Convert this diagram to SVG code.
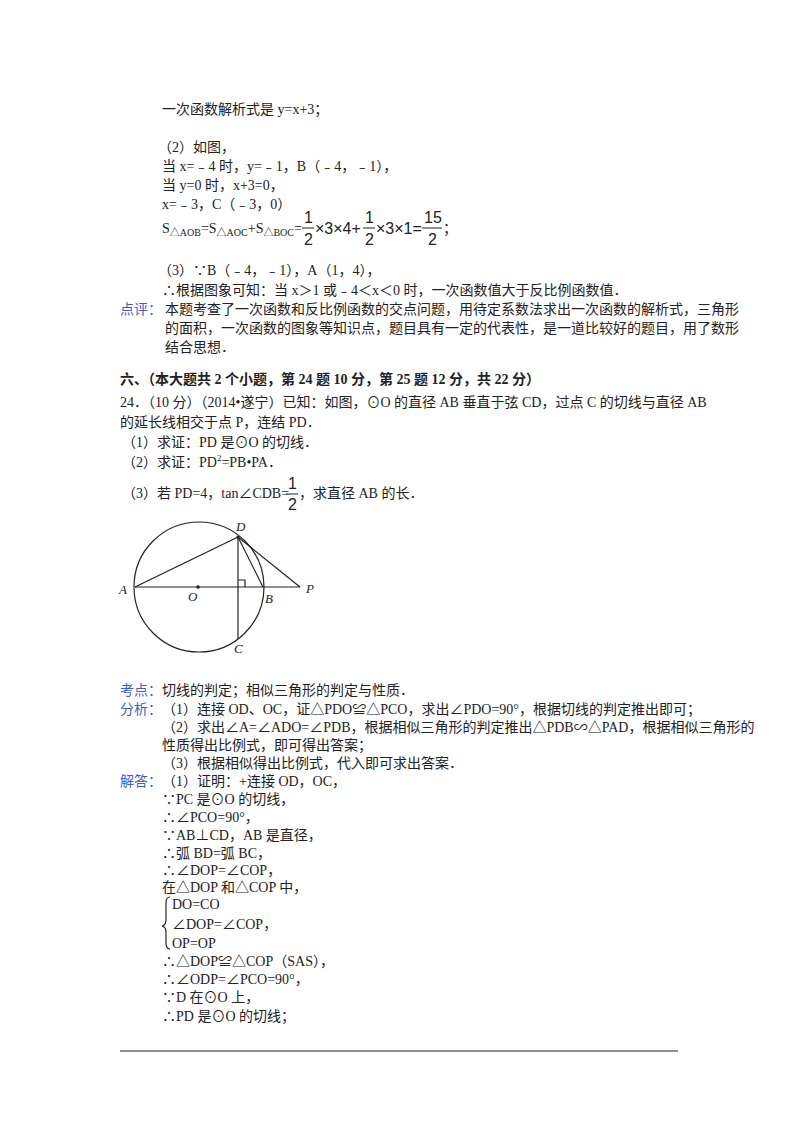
<svg xmlns="http://www.w3.org/2000/svg" width="800" height="1132" viewBox="0 0 800 1132">
<style>
text{font-family:"Liberation Serif","Noto Sans CJK SC",serif;font-size:14px;fill:#222}
.b{fill:#3a5fcd}
.h{font-weight:bold}
.lbl{font-style:italic;font-size:13px}
.ln{stroke:#222;stroke-width:1.2;fill:none}
.fr{font-family:"Liberation Sans",sans-serif;font-size:16px}
</style>
<rect width="800" height="1132" fill="#fff"/>
<g id="text-top">
<text x="162" y="114">一次函数解析式是 y=x+3；</text>
<text x="158" y="152">（2）如图，</text>
<text x="162" y="171">当 x=﹣4 时，y=﹣1，B（﹣4，﹣1），</text>
<text x="162" y="190">当 y=0 时，x+3=0，</text>
<text x="162" y="209">x=﹣3，C（﹣3，0）</text>
<text x="162" y="233">S<tspan font-size="10" dy="3">△AOB</tspan><tspan dy="-3">=S</tspan><tspan font-size="10" dy="3">△AOC</tspan><tspan dy="-3">+S</tspan><tspan font-size="10" dy="3">△BOC</tspan><tspan dy="-3">=</tspan></text>
<text class="fr" x="304" y="223">1</text><line x1="302" y1="228" x2="314" y2="228" stroke="#222"/><text class="fr" x="304" y="245">2</text>
<text class="fr" x="315" y="234">×3×4+</text>
<text class="fr" x="365" y="223">1</text><line x1="363" y1="228" x2="375" y2="228" stroke="#222"/><text class="fr" x="365" y="245">2</text>
<text class="fr" x="376" y="234">×3×1=</text>
<text class="fr" x="424" y="223">15</text><line x1="422" y1="228" x2="442" y2="228" stroke="#222"/><text class="fr" x="428" y="245">2</text>
<text x="443" y="233">；</text>
<text x="158" y="275">（3）∵B（﹣4，﹣1），A（1，4），</text>
<text x="162" y="295">∴根据图象可知：当 x＞1 或﹣4＜x＜0 时，一次函数值大于反比例函数值．</text>
<text class="b" x="120" y="314">点评：</text>
<text x="165" y="314">本题考查了一次函数和反比例函数的交点问题，用待定系数法求出一次函数的解析式，三角形</text>
<text x="165" y="333">的面积，一次函数的图象等知识点，题目具有一定的代表性，是一道比较好的题目，用了数形</text>
<text x="165" y="352">结合思想．</text>
</g>
<g id="question">
<text class="h" x="120" y="384">六、（本大题共 2 个小题，第 24 题 10 分，第 25 题 12 分，共 22 分）</text>
<text x="120" y="407">24．（10 分）（2014•遂宁）已知：如图，⊙O 的直径 AB 垂直于弦 CD，过点 C 的切线与直径 AB</text>
<text x="120" y="427">的延长线相交于点 P，连结 PD．</text>
<text x="122" y="447">（1）求证：PD 是⊙O 的切线．</text>
<text x="122" y="467">（2）求证：PD<tspan font-size="9" dy="-6">2</tspan><tspan dy="6">=PB•PA．</tspan></text>
<text x="122" y="498">（3）若 PD=4，tan∠CDB=</text>
<text class="fr" x="288" y="489">1</text><line x1="286" y1="494" x2="298" y2="494" stroke="#222"/><text class="fr" x="288" y="510">2</text>
<text x="299" y="498">，求直径 AB 的长．</text>
</g>
<g id="figure">
<circle class="ln" cx="199" cy="587" r="65"/>
<line class="ln" x1="135" y1="587" x2="300" y2="587"/>
<line class="ln" x1="238" y1="537" x2="238" y2="639"/>
<line class="ln" x1="135" y1="587" x2="238" y2="537"/>
<line class="ln" x1="238" y1="537" x2="263" y2="587"/>
<line class="ln" x1="238" y1="537" x2="300" y2="587"/>
<polyline class="ln" points="238,580 245,580 245,587"/>
<circle cx="198" cy="587" r="1.8" fill="#222"/>
<circle cx="238" cy="537" r="1.6" fill="#222"/>
<text class="lbl" x="236" y="531">D</text>
<text class="lbl" x="119" y="594">A</text>
<text class="lbl" x="188" y="601">O</text>
<text class="lbl" x="265" y="603">B</text>
<text class="lbl" x="306" y="593">P</text>
<text class="lbl" x="234" y="653">C</text>
</g>
<g id="answer">
<text class="b" x="120" y="695">考点：</text>
<text x="162" y="695">切线的判定；相似三角形的判定与性质．</text>
<text class="b" x="120" y="714">分析：</text>
<text x="162" y="714">（1）连接 OD、OC，证△PDO≌△PCO，求出∠PDO=90°，根据切线的判定推出即可；</text>
<text x="162" y="732">（2）求出∠A=∠ADO=∠PDB，根据相似三角形的判定推出△PDB∽△PAD，根据相似三角形的</text>
<text x="162" y="750">性质得出比例式，即可得出答案；</text>
<text x="162" y="768">（3）根据相似得出比例式，代入即可求出答案．</text>
<text class="b" x="120" y="786">解答：</text>
<text x="162" y="786">（1）证明：+连接 OD，OC，</text>
<text x="162" y="804">∵PC 是⊙O 的切线，</text>
<text x="162" y="822">∴∠PCO=90°，</text>
<text x="162" y="840">∵AB⊥CD，AB 是直径，</text>
<text x="162" y="858">∴弧 BD=弧 BC，</text>
<text x="162" y="875">∴∠DOP=∠COP，</text>
<text x="162" y="892">在△DOP 和△COP 中，</text>
<path class="ln" d="M170,897 Q166,897 166,903 L166,920 Q166,925 162,926 Q166,927 166,932 L166,943 Q166,949 170,949" stroke-width="1"/>
<text x="172" y="909">DO=CO</text>
<text x="172" y="929">∠DOP=∠COP，</text>
<text x="172" y="948">OP=OP</text>
<text x="162" y="966">∴△DOP≌△COP（SAS），</text>
<text x="162" y="984">∴∠ODP=∠PCO=90°，</text>
<text x="162" y="1002">∵D 在⊙O 上，</text>
<text x="162" y="1021">∴PD 是⊙O 的切线；</text>
</g>
<line x1="120" y1="1051" x2="678" y2="1051" stroke="#222" stroke-width="1"/>
</svg>
